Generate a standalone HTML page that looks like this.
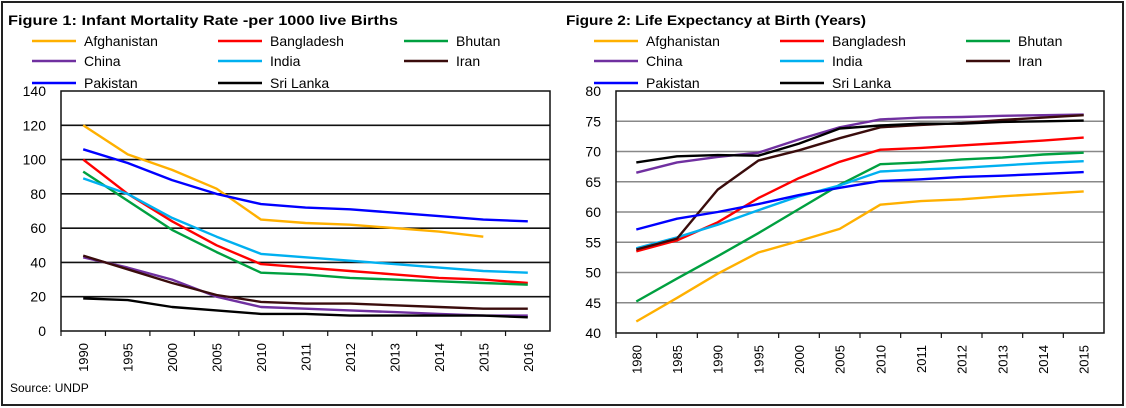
<!DOCTYPE html>
<html><head><meta charset="utf-8"><style>
html,body{margin:0;padding:0;background:#fff;}
svg{display:block;font-family:"Liberation Sans",sans-serif;}
</style></head><body>
<svg id="s" width="1126" height="408" viewBox="0 0 1126 408">
<rect x="2" y="2" width="1121" height="403" fill="#fff" stroke="#222" stroke-width="2"/>
<text x="8" y="25" font-size="14" font-weight="bold" textLength="390" lengthAdjust="spacingAndGlyphs">Figure 1: Infant Mortality Rate -per 1000 live Births</text>
<text x="566" y="25" font-size="14" font-weight="bold" textLength="300" lengthAdjust="spacingAndGlyphs">Figure 2: Life Expectancy at Birth (Years)</text>
<text x="10" y="392" font-size="12">Source: UNDP</text>
</svg>
<script>
const names=["Afghanistan","Bangladesh","Bhutan","China","India","Iran","Pakistan","Sri Lanka"];
const colors=["#ffb000","#ff0000","#00a040","#7030a0","#00b0f0","#3a0c0c","#0000ff","#000000"];
const cats1=["1990","1995","2000","2005","2010","2011","2012","2013","2014","2015","2016"];
const ticks1=[0,20,40,60,80,100,120,140];
const afg1=[120,103,94,83,65,63,62,60,58,55,null];
const ban1=[100,80,64,50,39,37,35,33,31,30,28];
const bhu1=[93,76,59,46,34,33,31,30,29,28,27];
const chn1=[43,37,30,20,14,13,12,11,10,9,9];
const ind1=[89,80,66,55,45,43,41,39,37,35,34];
const irn1=[44,36,28,21,17,16,16,15,14,13,13];
const pak1=[106,98,88,80,74,72,71,69,67,65,64];
const sri1=[19,18,14,12,10,10,9,9,9,9,8];
const cats2=["1980","1985","1990","1995","2000","2005","2010","2011","2012","2013","2014","2015"];
const ticks2=[40,45,50,55,60,65,70,75,80];
const afg2=[41.9,45.8,49.8,53.3,55.2,57.2,61.2,61.8,62.1,62.6,63,63.4];
const ban2=[53.5,55.3,58.3,62.3,65.6,68.3,70.3,70.6,71,71.4,71.8,72.3];
const bhu2=[45.2,49,52.7,56.5,60.5,64.5,67.9,68.2,68.7,69,69.5,69.8];
const chn2=[66.5,68.2,69.1,69.8,72,74,75.3,75.6,75.7,75.9,76,76.1];
const ind2=[54,55.8,57.9,60.3,62.6,64.4,66.7,67,67.3,67.7,68.1,68.4];
const irn2=[53.8,55.6,63.7,68.5,70.2,72.2,74,74.4,74.7,75.2,75.6,76];
const pak2=[57.1,58.9,60,61.3,62.8,64,65.1,65.4,65.8,66,66.3,66.6];
const sri2=[68.2,69.2,69.4,69.3,71.3,73.8,74.3,74.6,74.6,74.9,75,75.1];
const series1=[afg1,ban1,bhu1,chn1,ind1,irn1,pak1,sri1];
const series2=[afg2,ban2,bhu2,chn2,ind2,irn2,pak2,sri2];
const NS="http://www.w3.org/2000/svg";
const svg=document.getElementById('s');
function mk(tag,attrs,parent){const e=document.createElementNS(NS,tag);for(const k in attrs)e.setAttribute(k,attrs[k]);(parent||svg).appendChild(e);return e;}
function chart(id,L,R,T,B,cats,ticks,series,gridColor,labelX,legend){
  const g=mk('g',{});
  
  
  const ymin=ticks[0],ymax=ticks[ticks.length-1];
  const y=v=>B-(v-ymin)/(ymax-ymin)*(B-T);
  const cw=(R-L)/cats.length;
  const x=i=>L+cw*(i+0.5);
  ticks.forEach((t,i)=>{
    if(i>0&&i<ticks.length-1){const l=mk('line',{x1:L,x2:R,y1:y(t),y2:y(t),stroke:gridColor,'stroke-width':1.6},g);
    
    }
    const tx=mk('text',{x:labelX,y:y(t)+5,'text-anchor':'end','font-size':14},g);tx.textContent=t;
    
    
  });
  const fr=mk('rect',{x:L,y:T,width:R-L,height:B-T,fill:'none',stroke:'#111','stroke-width':1.5},g);
  
  
  cats.forEach((c,i)=>{
    const tk=mk('line',{x1:L+cw*i,x2:L+cw*i,y1:B,y2:B+5,stroke:'#111','stroke-width':1.2},g);
    
    
    const tx=mk('text',{x:0,y:0,'font-size':13,'text-anchor':'end',transform:`translate(${x(i)+5},${B+12}) rotate(-90)`},g);tx.textContent=c;
    
    
  });
  series.forEach((s,k)=>{
    let d='';s.forEach((v,i)=>{if(v==null)return;d+=(d?'L':'M')+x(i).toFixed(1)+','+y(v).toFixed(1);});
    const p=mk('path',{d:d,fill:'none',stroke:colors[k],'stroke-width':2.4,'stroke-linejoin':'round'},g);
    
    
  });
  names.forEach((n,k)=>{
    const col=k%3,row=Math.floor(k/3);
    const lx=legend.xs[col],ly=legend.ys[row];
    const ln=mk('line',{x1:lx,x2:lx+44,y1:ly,y2:ly,stroke:colors[k],'stroke-width':2.6},g);
    
    
    const tx=mk('text',{x:lx+52,y:ly+5,'font-size':14},g);tx.textContent=n;
    
    
  });
}
chart('infant-mortality-chart',61,550,91,331,cats1,ticks1,series1,'#111',46,{xs:[32,218,404],ys:[41,61,83]});
chart('life-expectancy-chart',616,1104,91,333,cats2,ticks2,series2,'#888',601,{xs:[594,780,966],ys:[41,61,83]});
</script>
</body></html>
